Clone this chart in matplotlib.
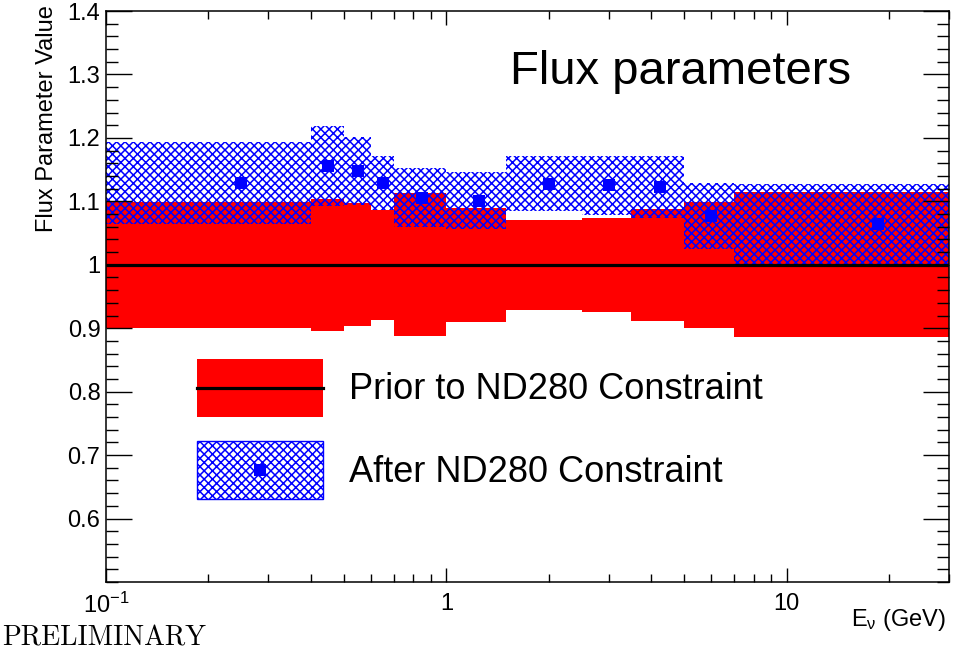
import numpy as np
import matplotlib
matplotlib.use("Agg")
import matplotlib.pyplot as plt
from matplotlib.patches import Patch
from matplotlib.lines import Line2D
from matplotlib.legend_handler import HandlerLine2D
from matplotlib.ticker import MultipleLocator, LogLocator, NullFormatter

# neutrino energy binning (GeV)
edges = [0.1, 0.4, 0.5, 0.6, 0.7, 1.0, 1.5, 2.5, 3.5, 5.0, 7.0, 30.0]

# prior flux parameters and their 1 sigma errors
prior_value = [1.0, 1.0, 1.0, 1.0, 1.0, 1.0, 1.0, 1.0, 1.0, 1.0, 1.0]
prior_err = [0.099, 0.104, 0.097, 0.087, 0.113, 0.090, 0.071, 0.074, 0.088, 0.099, 0.114]

# after the near detector fit
post_value = [1.129, 1.156, 1.148, 1.129, 1.106, 1.101, 1.128, 1.125, 1.123, 1.077, 1.065]
post_err = [0.064, 0.063, 0.054, 0.042, 0.046, 0.045, 0.044, 0.046, 0.049, 0.052, 0.063]

plt.rcParams['font.family'] = ['Liberation Sans', 'DejaVu Sans']
plt.rcParams['mathtext.fontset'] = 'custom'
plt.rcParams['mathtext.rm'] = 'Liberation Sans'
plt.rcParams['mathtext.it'] = 'Liberation Sans:italic'
plt.rcParams['hatch.color'] = 'blue'
plt.rcParams['hatch.linewidth'] = 1.1


class CenteredLine(HandlerLine2D):
	# put the line / marker in the middle of the legend box
	def create_artists(self, legend, orig_handle, xdescent, ydescent, width, height, fontsize, trans):
		arts = super().create_artists(legend, orig_handle, xdescent, ydescent,
									  width, height, fontsize, trans)
		for a in arts:
			a.set_ydata(np.full(len(a.get_ydata()), height/2. - ydescent))
		return arts


def flux_plot(fname="out.png"):
	e = np.array(edges)
	pv = np.array(prior_value)
	pe = np.array(prior_err)
	av = np.array(post_value)
	ae = np.array(post_err)
	centers = 0.5*(e[:-1] + e[1:])

	fig = plt.figure(figsize=(9.66, 6.6), dpi=100)
	ax = fig.add_axes([106/966., 1 - 582/660., (949-106)/966., (582-11)/660.])

	# prior band, then the post-fit hatch on top
	ax.stairs(pv + pe, e, baseline=pv - pe, fill=True, color='red', lw=0)
	ax.stairs(av + ae, e, baseline=av - ae, fill=True, facecolor='none',
			  edgecolor='blue', hatch='xxxx', lw=0)
	ax.stairs(pv, e, baseline=None, color='black', lw=2.3)
	ax.plot(centers, av, 's', color='blue', ms=9, mew=0)

	ax.set_xscale('log')
	ax.set_xlim(0.1, 30.)
	ax.set_ylim(0.5, 1.4)

	ax.set_xticks([0.1, 1, 10])
	ax.set_xticklabels([r'10$^{\mathregular{-1}}$', '1', '10'])
	ax.xaxis.set_minor_locator(LogLocator(base=10, subs=np.arange(2, 10)))
	ax.xaxis.set_minor_formatter(NullFormatter())
	ax.set_yticks([0.6, 0.7, 0.8, 0.9, 1.0, 1.1, 1.2, 1.3, 1.4])
	ax.set_yticklabels(['0.6', '0.7', '0.8', '0.9', '1', '1.1', '1.2', '1.3', '1.4'])
	ax.yaxis.set_minor_locator(MultipleLocator(0.02))

	ax.tick_params(which='both', direction='in', top=True, right=True, width=1.0, labelsize=17)
	ax.tick_params(axis='x', which='major', length=10, pad=8)
	ax.tick_params(axis='x', which='minor', length=6)
	ax.tick_params(axis='y', which='major', length=18.5, pad=4)
	ax.tick_params(axis='y', which='minor', length=8.6)
	for s in ax.spines.values():
		s.set_linewidth(1.1)

	ax.set_ylabel('Flux Parameter Value', fontsize=17)
	ax.yaxis.set_label_coords(-0.057, 1.01)
	ax.yaxis.label.set_horizontalalignment('right')
	ax.set_xlabel(r'E$_{\mathregular{\nu}}$ (GeV)', fontsize=17)
	ax.xaxis.set_label_coords(0.9964, -0.043)
	ax.xaxis.label.set_horizontalalignment('right')

	ax.text(510/966., 1 - 72/660., 'Flux parameters', fontsize=34,
			transform=fig.transFigure, ha='left', va='center')
	fig.text(2/966., 1 - 646/660., 'PRELIMINARY', fontsize=20, family='cmr10',
			 ha='left', va='baseline')

	prior_h = (Patch(facecolor='red', edgecolor='none'),
			   Line2D([], [], color='black', lw=2.3))
	post_h = (Patch(facecolor='none', edgecolor='blue', hatch='xxxx', lw=1.0),
			  Line2D([], [], marker='s', color='blue', ls='none', ms=9, mew=0))
	ax.legend([prior_h, post_h], ['Prior to ND280 Constraint', 'After ND280 Constraint'],
			  handler_map={Line2D: CenteredLine()},
			  loc='upper left', bbox_to_anchor=(197/966., 1 - 359/660.),
			  bbox_transform=fig.transFigure, frameon=False, fontsize=26,
			  borderpad=0, borderaxespad=0, handlelength=3.5, handleheight=2.1,
			  labelspacing=0.67, handletextpad=0.72)

	fig.savefig(fname, dpi=100)
	plt.close(fig)


if __name__ == '__main__':
	flux_plot()
